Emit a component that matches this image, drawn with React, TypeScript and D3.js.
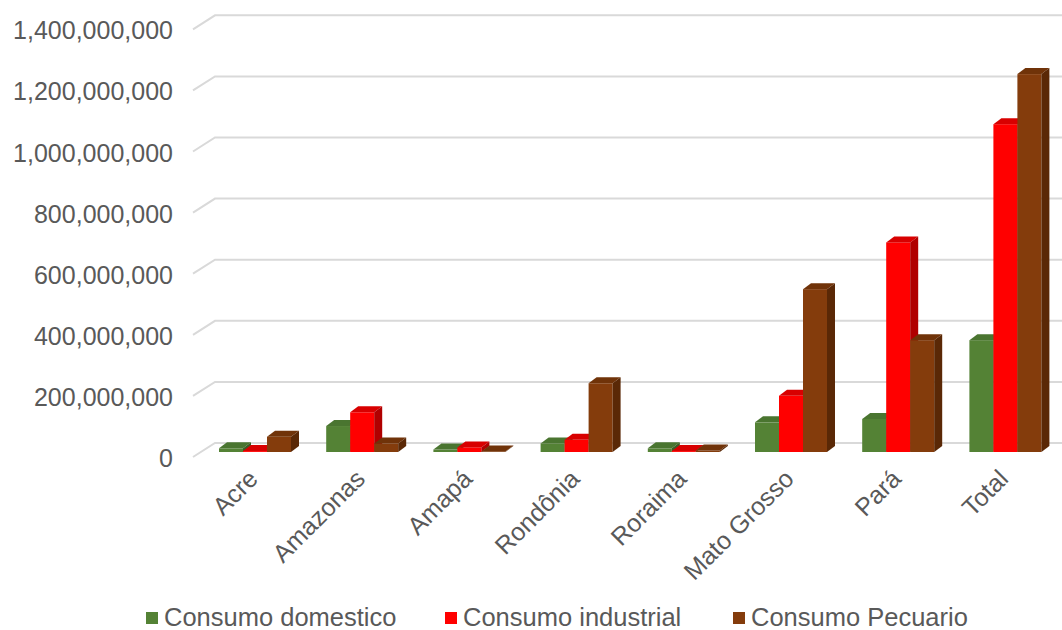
import React from "react";
import * as d3 from "d3";

const categories = ["Acre", "Amazonas", "Amapá", "Rondônia", "Roraima", "Mato Grosso", "Pará", "Total"];
const seriesNames = ["Consumo domestico", "Consumo industrial", "Consumo Pecuario"];
const domestico = [12e6, 85e6, 8e6, 28e6, 12e6, 97e6, 108e6, 366e6];
const industrial = [3e6, 130e6, 15e6, 40e6, 3e6, 184e6, 686e6, 1073e6];
const pecuario = [50e6, 28e6, 2e6, 225e6, 5e6, 533e6, 366e6, 1237e6];
const yTicks = [0, 200e6, 400e6, 600e6, 800e6, 1000e6, 1200e6, 1400e6];

const frontColors = ["#548235", "#ff0000", "#843c0c"];
const topColors = ["#4a7530", "#d80000", "#703309"];
const sideColors = ["#3b5e25", "#b00000", "#5a2806"];

const W = 1062;
const H = 630;
const FONT = "'Liberation Sans', Arial, sans-serif";
const TXT = "#595959";

export default function App() {
  const values = [domestico, industrial, pecuario];
  const x0 = d3.scaleBand<string>().domain(categories).range([201.4, 1059]).padding(0);
  const x1 = d3.scaleBand<string>().domain(seriesNames).range([17.6, 89.6]).padding(0);
  const y = d3.scaleLinear().domain([0, 1400e6]).range([452, 452 - 1400 * 0.3055]);
  const fmt = d3.format(",");
  const dx = 8;
  const dy = 6;
  const backOff = -9; // back wall relative to bar front
  const slantDx = 22;
  const slantDy = 14;
  const wallLeft = 215;

  return (
    <svg width={W} height={H} style={{ position: "absolute", left: 0, top: 0, background: "#fff" }}>
      {yTicks.map((t) => {
        const yb = y(t) + backOff;
        return (
          <g key={t}>
            <path
              d={`M${wallLeft - slantDx},${yb + slantDy}L${wallLeft},${yb}L${W + 10},${yb}`}
              fill="none"
              stroke="#d9d9d9"
              strokeWidth={2}
            />
            <text
              x={173}
              y={yb + 15}
              textAnchor="end"
              dominantBaseline="central"
              fontFamily={FONT}
              fontSize={25}
              fill={TXT}
            >
              {fmt(t)}
            </text>
          </g>
        );
      })}
      {categories.map((c, ci) => (
        <g key={c}>
          {seriesNames.map((s, si) => {
            const v = values[si][ci];
            const xl = (x0(c) as number) + (x1(s) as number);
            const w = x1.bandwidth();
            const yt = y(v);
            const yb = y(0);
            return (
              <g key={s}>
                <rect x={xl} y={yt} width={w} height={yb - yt} fill={frontColors[si]} />
                <path
                  d={`M${xl},${yt}L${xl + dx},${yt - dy}L${xl + w + dx},${yt - dy}L${xl + w},${yt}Z`}
                  fill={topColors[si]}
                />
                <path
                  d={`M${xl + w},${yt}L${xl + w + dx},${yt - dy}L${xl + w + dx},${yb - dy}L${xl + w},${yb}Z`}
                  fill={sideColors[si]}
                />
              </g>
            );
          })}
          <text
            transform={`translate(${(x0(c) as number) + 17.6 + 34},${474}) rotate(-45)`}
            textAnchor="end"
            dominantBaseline="central"
            fontFamily={FONT}
            fontSize={25}
            fill={TXT}
          >
            {c}
          </text>
        </g>
      ))}
      {seriesNames.map((s, i) => {
        const lx = [146, 445, 733][i];
        return (
          <g key={s}>
            <rect x={lx} y={612} width={12} height={12} fill={frontColors[i]} />
            <text x={lx + 18} y={617} dominantBaseline="central" fontFamily={FONT} fontSize={25.5} fill={TXT}>
              {s}
            </text>
          </g>
        );
      })}
    </svg>
  );
}
